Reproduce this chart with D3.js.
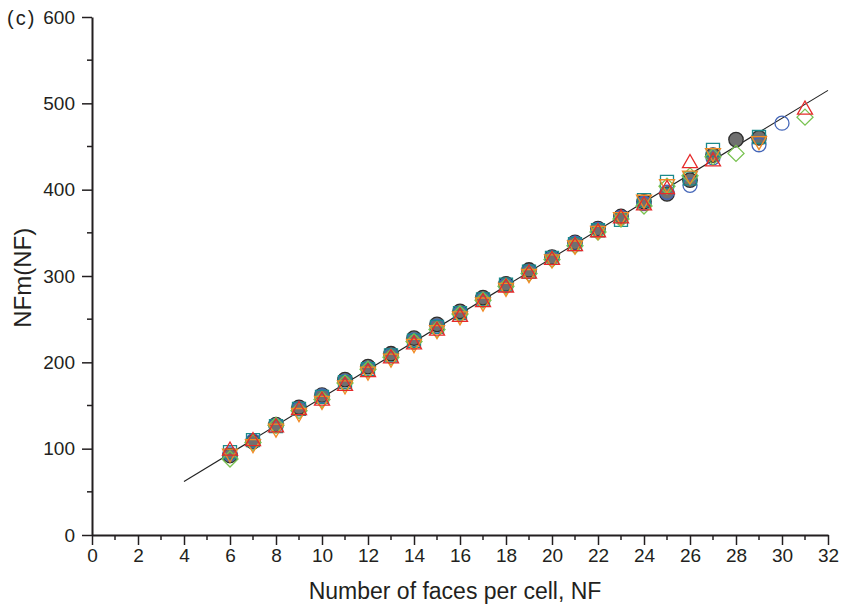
<!DOCTYPE html>
<html>
<head>
<meta charset="utf-8">
<script src="https://cdn.jsdelivr.net/npm/d3@7"></script>
<style>
  body { margin: 0; background: #fff; }
  svg text { font-family: "Liberation Sans", Arial, sans-serif; fill: #231f20; }
</style>
</head>
<body>
<div id="chart"></div>
<script>
// --- Data ---
const nf = [6, 7, 8, 9, 10, 11, 12, 13, 14, 15, 16, 17, 18, 19, 20, 21, 22, 23, 24, 25, 26, 27, 28, 29, 30, 31];

const grayCircle = [92, 108, 128, 148, 162, 180, 195, 210, 228, 244, 259, 275, 291, 307, 322, 339, 355, 369, 386, 395, 411, 440, 458, 460, null, null];
const blueCircle = [94, 109, 127, 146, 161, 178, 193, 208, 226, 242, 257, 273, 289, 305, 321, 338, 354, 368, 384, 397, 405, 437, null, 452, 477, null];
const tealSquare = [96, 110, 126, 146, 160, 177, 192, 208, 225, 241, 257, 273, 290, 305, 321, 337, 353, 365, 388, 409, 413, 446, null, 461, null, null];
const greenDiamond = [88, 107, 127, 144, 157, 176, 192, 206, 224, 238, 256, 272, 288, 303, 319, 335, 351, 366, 381, 404, 416, 438, 442, null, null, 484];
const orangeDown = [93, 104, 122, 140, 154, 172, 188, 203, 220, 236, 252, 268, 285, 301, 318, 334, 351, 367, 387, 405, 415, 441, null, 455, null, null];
const redUp = [99, 110, 126, 146, 157, 174, 190, 206, 222, 238, 254, 271, 288, 304, 320, 336, 352, 368, 383, 402, 432, 434, null, null, null, 494];

// linear fit endpoints
const fitX = [4, 32];
const fitY = [62, 515];

const xTicks = [0, 2, 4, 6, 8, 10, 12, 14, 16, 18, 20, 22, 24, 26, 28, 30, 32];
const yTicks = [0, 100, 200, 300, 400, 500, 600];

// --- Layout ---
const W = 843, H = 607;
const margin = { top: 17, right: 15, bottom: 72, left: 92 };

const svg = d3.select('#chart').append('svg')
    .attr('width', W)
    .attr('height', H);

const x = d3.scaleLinear().domain([0, 32]).range([margin.left, W - margin.right]);
const y = d3.scaleLinear().domain([0, 600]).range([H - margin.bottom, margin.top]);

const axisColor = '#231f20';

// X axis
const xAxis = svg.append('g')
    .attr('transform', `translate(0, ${y(0)})`)
    .call(d3.axisBottom(x).tickValues(xTicks).tickFormat(d3.format('d')).tickSize(10).tickPadding(4).tickSizeOuter(0));
xAxis.selectAll('text').style('font-size', '19px');
xAxis.append('g').selectAll('line')
    .data(d3.range(1, 32, 2))
    .enter().append('line')
    .attr('x1', d => x(d)).attr('x2', d => x(d))
    .attr('y1', 0).attr('y2', 5)
    .attr('stroke', axisColor).attr('stroke-width', 1.5);

// Y axis
const yAxis = svg.append('g')
    .attr('transform', `translate(${x(0)}, 0)`)
    .call(d3.axisLeft(y).tickValues(yTicks).tickSize(10).tickPadding(7).tickSizeOuter(0));
yAxis.selectAll('text').style('font-size', '19px');
yAxis.append('g').selectAll('line')
    .data(d3.range(50, 600, 100))
    .enter().append('line')
    .attr('y1', d => y(d)).attr('y2', d => y(d))
    .attr('x1', 0).attr('x2', -5)
    .attr('stroke', axisColor).attr('stroke-width', 1.5);

svg.selectAll('.domain').attr('stroke', axisColor).attr('stroke-width', 2);
svg.selectAll('.tick line').attr('stroke', axisColor).attr('stroke-width', 1.5);
svg.selectAll('.tick text').attr('fill', axisColor);

// Titles
svg.append('text')
    .attr('x', 455)
    .attr('y', 599)
    .attr('text-anchor', 'middle')
    .style('font-size', '23px')
    .text('Number of faces per cell, NF');

svg.append('text')
    .attr('transform', `translate(31, ${y(298)}) rotate(-90)`)
    .attr('text-anchor', 'middle')
    .style('font-size', '24px')
    .text('NFm(NF)');

svg.append('text')
    .attr('x', 7)
    .attr('y', 25)
    .style('font-size', '20px')
    .style('letter-spacing', '2px')
    .text('(c)');

// Fit line
svg.append('line')
    .attr('x1', x(fitX[0])).attr('y1', y(fitY[0]))
    .attr('x2', x(fitX[1])).attr('y2', y(fitY[1]))
    .attr('stroke', '#222')
    .attr('stroke-width', 1.1);

// --- Markers ---
const shapes = {
    circle: r => `M${-r},0A${r},${r} 0 1,0 ${r},0A${r},${r} 0 1,0 ${-r},0Z`,
    square: r => `M${-r},${-r}H${r}V${r}H${-r}Z`,
    diamond: r => `M0,${-r}L${r},0L0,${r}L${-r},0Z`,
    up: r => `M0,${-r}L${r},${r * 0.75}L${-r},${r * 0.75}Z`,
    down: r => `M0,${r}L${r},${-r * 0.75}L${-r},${-r * 0.75}Z`
};

const series = [
    { values: grayCircle, shape: 'circle', r: 7.2, stroke: '#2e2e2e', fill: '#707070' },
    { values: blueCircle, shape: 'circle', r: 7, stroke: '#4466b8', fill: 'none' },
    { values: tealSquare, shape: 'square', r: 6.5, stroke: '#1b8a8c', fill: 'none' },
    { values: greenDiamond, shape: 'diamond', r: 8, stroke: '#78c250', fill: 'none' },
    { values: orangeDown, shape: 'down', r: 7.5, stroke: '#f28a25', fill: 'none' },
    { values: redUp, shape: 'up', r: 7.5, stroke: '#e62a2a', fill: 'none' }
];

series.forEach(s => {
    const pts = nf.map((n, i) => ({ n, v: s.values[i] })).filter(d => d.v != null);
    svg.append('g').selectAll('path')
        .data(pts)
        .enter().append('path')
        .attr('d', shapes[s.shape](s.r))
        .attr('transform', d => `translate(${x(d.n)}, ${y(d.v)})`)
        .attr('fill', s.fill)
        .attr('stroke', s.stroke)
        .attr('stroke-width', 1.3);
});
</script>
</body>
</html>
